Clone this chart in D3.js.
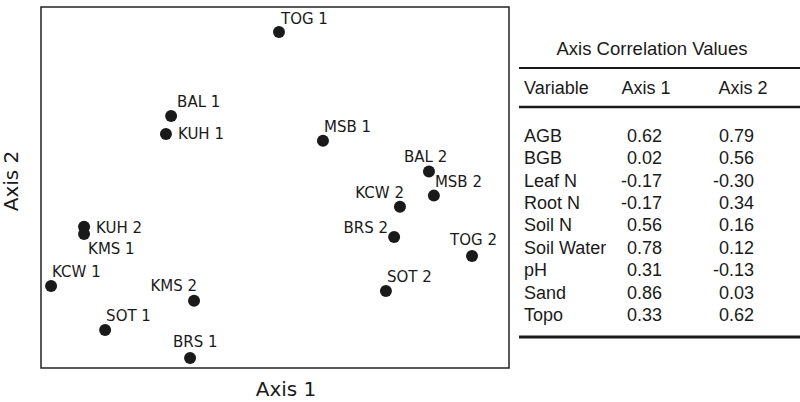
<!DOCTYPE html>
<html>
<head>
<meta charset="utf-8">
<script src="https://cdn.jsdelivr.net/npm/d3@7"></script>
<style>
  body { margin: 0; background: #fff; }
  svg { display: block; }
</style>
</head>
<body>
<div id="chart"></div>
<script>
// ordination scores for each site
const sites = ['TOG 1', 'BAL 1', 'KUH 1', 'MSB 1', 'BAL 2', 'MSB 2', 'KCW 2', 'BRS 2',
  'TOG 2', 'SOT 2', 'KUH 2', 'KMS 1', 'KCW 1', 'KMS 2', 'SOT 1', 'BRS 1']
const axis1Scores = [0.017, -0.444, -0.466, 0.205, 0.658, 0.679, 0.534, 0.509,
  0.842, 0.474, -0.816, -0.816, -0.957, -0.346, -0.726, -0.363]
const axis2Scores = [0.862, 0.396, 0.296, 0.259, 0.088, -0.045, -0.106, -0.274,
  -0.380, -0.573, -0.217, -0.258, -0.546, -0.627, -0.789, -0.945]

// correlation table
const variables = ['AGB', 'BGB', 'Leaf N', 'Root N', 'Soil N', 'Soil Water', 'pH', 'Sand', 'Topo']
const axis1Corr = ['0.62', '0.02', '-0.17', '-0.17', '0.56', '0.78', '0.31', '0.86', '0.33']
const axis2Corr = ['0.79', '0.56', '-0.30', '0.34', '0.16', '0.12', '-0.13', '0.03', '0.62']

// label placement relative to each dot [dx, dy, anchor]
const labelPos = {
  'TOG 1': [2, -8, 'start'], 'BAL 1': [6, -9, 'start'], 'KUH 1': [12, 5, 'start'],
  'MSB 1': [1, -9, 'start'], 'BAL 2': [-25, -10, 'start'], 'MSB 2': [1, -9, 'start'],
  'KCW 2': [4, -9, 'end'], 'BRS 2': [-6, -4, 'end'], 'TOG 2': [-22, -11, 'start'],
  'SOT 2': [1, -9, 'start'], 'KUH 2': [12, 6, 'start'], 'KMS 1': [4, 20, 'start'],
  'KCW 1': [1, -9, 'start'], 'KMS 2': [3, -10, 'end'], 'SOT 1': [1, -9, 'start'],
  'BRS 1': [-17, -11, 'start']
}

const width = 800
const height = 402
const plot = { left: 41, top: 7, right: 509, bottom: 368 }
const labelFont = '"DejaVu Sans", Verdana, sans-serif'
const tableFont = '"Liberation Sans", Arial, sans-serif'

const svg = d3.select('#chart')
  .append('svg')
  .attr('width', width)
  .attr('height', height)

const xScale = d3.scaleLinear()
  .domain([-1, 1])
  .range([plot.left, plot.right])
const yScale = d3.scaleLinear()
  .domain([-1, 1])
  .range([plot.bottom, plot.top])

svg.append('rect')
  .attr('x', plot.left)
  .attr('y', plot.top)
  .attr('width', plot.right - plot.left)
  .attr('height', plot.bottom - plot.top)
  .attr('fill', 'none')
  .attr('stroke', '#222')
  .attr('stroke-width', 1.5)

const points = sites.map((s, i) => ({ site: s, x: axis1Scores[i], y: axis2Scores[i] }))

svg.selectAll('circle.site')
  .data(points)
  .enter()
  .append('circle')
  .attr('class', 'site')
  .attr('cx', d => xScale(d.x))
  .attr('cy', d => yScale(d.y))
  .attr('r', 6)
  .attr('fill', '#1a1a1a')

svg.selectAll('text.site')
  .data(points)
  .enter()
  .append('text')
  .attr('class', 'site')
  .attr('x', d => xScale(d.x) + labelPos[d.site][0])
  .attr('y', d => yScale(d.y) + labelPos[d.site][1])
  .attr('text-anchor', d => labelPos[d.site][2])
  .style('font-family', labelFont)
  .style('font-size', '15px')
  .attr('fill', '#1a1a1a')
  .text(d => d.site)

// axis titles
svg.append('text')
  .attr('x', 286)
  .attr('y', 396)
  .attr('text-anchor', 'middle')
  .style('font-family', labelFont)
  .style('font-size', '20px')
  .attr('fill', '#1a1a1a')
  .text('Axis 1')

svg.append('text')
  .attr('transform', 'translate(18,181) rotate(-90)')
  .attr('text-anchor', 'middle')
  .style('font-family', labelFont)
  .style('font-size', '20px')
  .attr('fill', '#1a1a1a')
  .text('Axis 2')

// table
const table = svg.append('g')
  .style('font-family', tableFont)
  .style('font-size', '18px')
  .attr('fill', '#1a1a1a')

table.append('text')
  .attr('x', 652)
  .attr('y', 55)
  .attr('text-anchor', 'middle')
  .style('font-size', '18.5px')
  .text('Axis Correlation Values')

const rule = (y, w) => table.append('line')
  .attr('x1', 519).attr('x2', 800)
  .attr('y1', y).attr('y2', y)
  .attr('stroke', '#1a1a1a')
  .attr('stroke-width', w)

rule(68, 2)
rule(107, 2.5)
rule(337, 3)

table.append('text').attr('x', 524).attr('y', 94).text('Variable')
table.append('text').attr('x', 646).attr('y', 94).attr('text-anchor', 'middle').text('Axis 1')
table.append('text').attr('x', 743).attr('y', 94).attr('text-anchor', 'middle').text('Axis 2')

const rowY = d3.scalePoint()
  .domain(variables)
  .range([141.7, 320.9])

table.selectAll('text.var')
  .data(variables)
  .enter()
  .append('text')
  .attr('class', 'var')
  .attr('x', 524)
  .attr('y', d => rowY(d))
  .text(d => d)

table.selectAll('text.a1')
  .data(variables)
  .enter()
  .append('text')
  .attr('class', 'a1')
  .attr('x', 662)
  .attr('y', d => rowY(d))
  .attr('text-anchor', 'end')
  .text((d, i) => axis1Corr[i])

table.selectAll('text.a2')
  .data(variables)
  .enter()
  .append('text')
  .attr('class', 'a2')
  .attr('x', 754)
  .attr('y', d => rowY(d))
  .attr('text-anchor', 'end')
  .text((d, i) => axis2Corr[i])
</script>
</body>
</html>
